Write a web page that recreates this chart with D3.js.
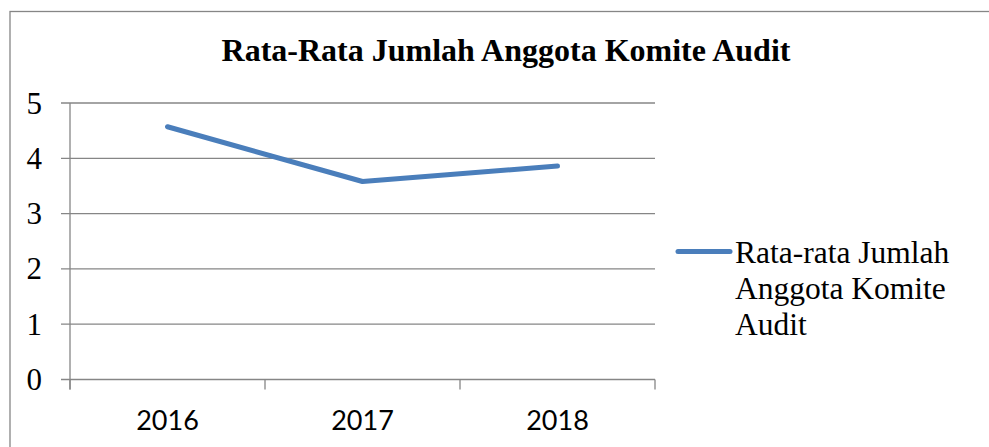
<!DOCTYPE html>
<html lang="en">
	<head>
		<meta charset="utf-8">
		<title>Rata-Rata Jumlah Anggota Komite Audit</title>
		<script type="text/javascript" src="https://cdn.jsdelivr.net/npm/d3@7/dist/d3.min.js"></script>
		<style type="text/css">
			body { margin: 0; background: #fff; }
		</style>
	</head>
	<body>
		<script type="text/javascript">
			//data
			var years = ["2016", "2017", "2018"];
			var values = [4.57, 3.58, 3.86];
			var yTicks = [0, 1, 2, 3, 4, 5];
			var titleText = "Rata-Rata Jumlah Anggota Komite Audit";
			var legendLines = ["Rata-rata Jumlah", "Anggota Komite", "Audit"];

			//Width and height
			var w = 989;
			var h = 447;
			var gridColor = "#868686";
			var lineColor = "#4a7ebb";
			var serif = "'Liberation Serif', 'Times New Roman', serif";

			var svg = d3.select("body")
						.append("svg")
						.attr("width", w)
						.attr("height", h);

			//outer frame (runs off the right and bottom edge)
			svg.append("rect")
			   .attr("x", 10)
			   .attr("y", 11.5)
			   .attr("width", 1000)
			   .attr("height", 500)
			   .attr("fill", "none")
			   .attr("stroke", gridColor)
			   .attr("stroke-width", 1.3);

			//title
			svg.append("text")
			   .attr("x", 506)
			   .attr("y", 61)
			   .attr("text-anchor", "middle")
			   .style("font-family", serif)
			   .style("font-weight", "bold")
			   .style("font-size", "32px")
			   .text(titleText);

			//scales
			var xScale = d3.scaleBand()
						   .domain(years)
						   .range([70, 655]);

			var yScale = d3.scaleLinear()
						   .domain([0, 5])
						   .range([379.5, 103]);

			//horizontal gridlines (with the little tick to the left of the axis)
			svg.selectAll("line.grid")
			   .data(yTicks)
			   .enter()
			   .append("line")
			   .attr("class", "grid")
			   .attr("x1", 61)
			   .attr("x2", 655)
			   .attr("y1", function(d) { return yScale(d); })
			   .attr("y2", function(d) { return yScale(d); })
			   .attr("stroke", gridColor)
			   .attr("stroke-width", 1.3);

			//y axis line
			svg.append("line")
			   .attr("x1", 70)
			   .attr("x2", 70)
			   .attr("y1", yScale(5))
			   .attr("y2", yScale(0) + 10)
			   .attr("stroke", gridColor)
			   .attr("stroke-width", 1.3);

			//y labels
			svg.selectAll("text.ylab")
			   .data(yTicks)
			   .enter()
			   .append("text")
			   .attr("class", "ylab")
			   .attr("x", 42)
			   .attr("y", function(d) { return yScale(d); })
			   .attr("dy", "0.34em")
			   .attr("text-anchor", "end")
			   .style("font-family", serif)
			   .style("font-size", "31px")
			   .text(function(d) { return d; });

			//category boundary ticks
			var bounds = years.map(function(d) { return xScale(d); }).concat([xScale.range()[1]]);
			svg.selectAll("line.xtick")
			   .data(bounds)
			   .enter()
			   .append("line")
			   .attr("class", "xtick")
			   .attr("x1", function(d) { return d; })
			   .attr("x2", function(d) { return d; })
			   .attr("y1", yScale(0))
			   .attr("y2", yScale(0) + 10)
			   .attr("stroke", gridColor)
			   .attr("stroke-width", 1.3);

			//x labels
			svg.selectAll("text.xlab")
			   .data(years)
			   .enter()
			   .append("text")
			   .attr("class", "xlab")
			   .attr("x", function(d) { return xScale(d) + xScale.bandwidth() / 2; })
			   .attr("y", 430)
			   .attr("text-anchor", "middle")
			   .style("font-family", "Lato, 'Open Sans', sans-serif")
			   .style("font-size", "27px")
			   .text(function(d) { return d; });

			//the line
			var line = d3.line()
						 .x(function(d, i) { return xScale(years[i]) + xScale.bandwidth() / 2; })
						 .y(function(d) { return yScale(d); });

			svg.append("path")
			   .datum(values)
			   .attr("d", line)
			   .attr("fill", "none")
			   .attr("stroke", lineColor)
			   .attr("stroke-width", 5)
			   .attr("stroke-linejoin", "round")
			   .attr("stroke-linecap", "round");

			//legend
			svg.append("line")
			   .attr("x1", 678)
			   .attr("x2", 730)
			   .attr("y1", 251.5)
			   .attr("y2", 251.5)
			   .attr("stroke", lineColor)
			   .attr("stroke-width", 5)
			   .attr("stroke-linecap", "round");

			svg.selectAll("text.leg")
			   .data(legendLines)
			   .enter()
			   .append("text")
			   .attr("class", "leg")
			   .attr("x", 735)
			   .attr("y", function(d, i) { return 263 + i * 36; })
			   .style("font-family", serif)
			   .style("font-size", "31.5px")
			   .text(function(d) { return d; });

		</script>
	</body>
</html>
